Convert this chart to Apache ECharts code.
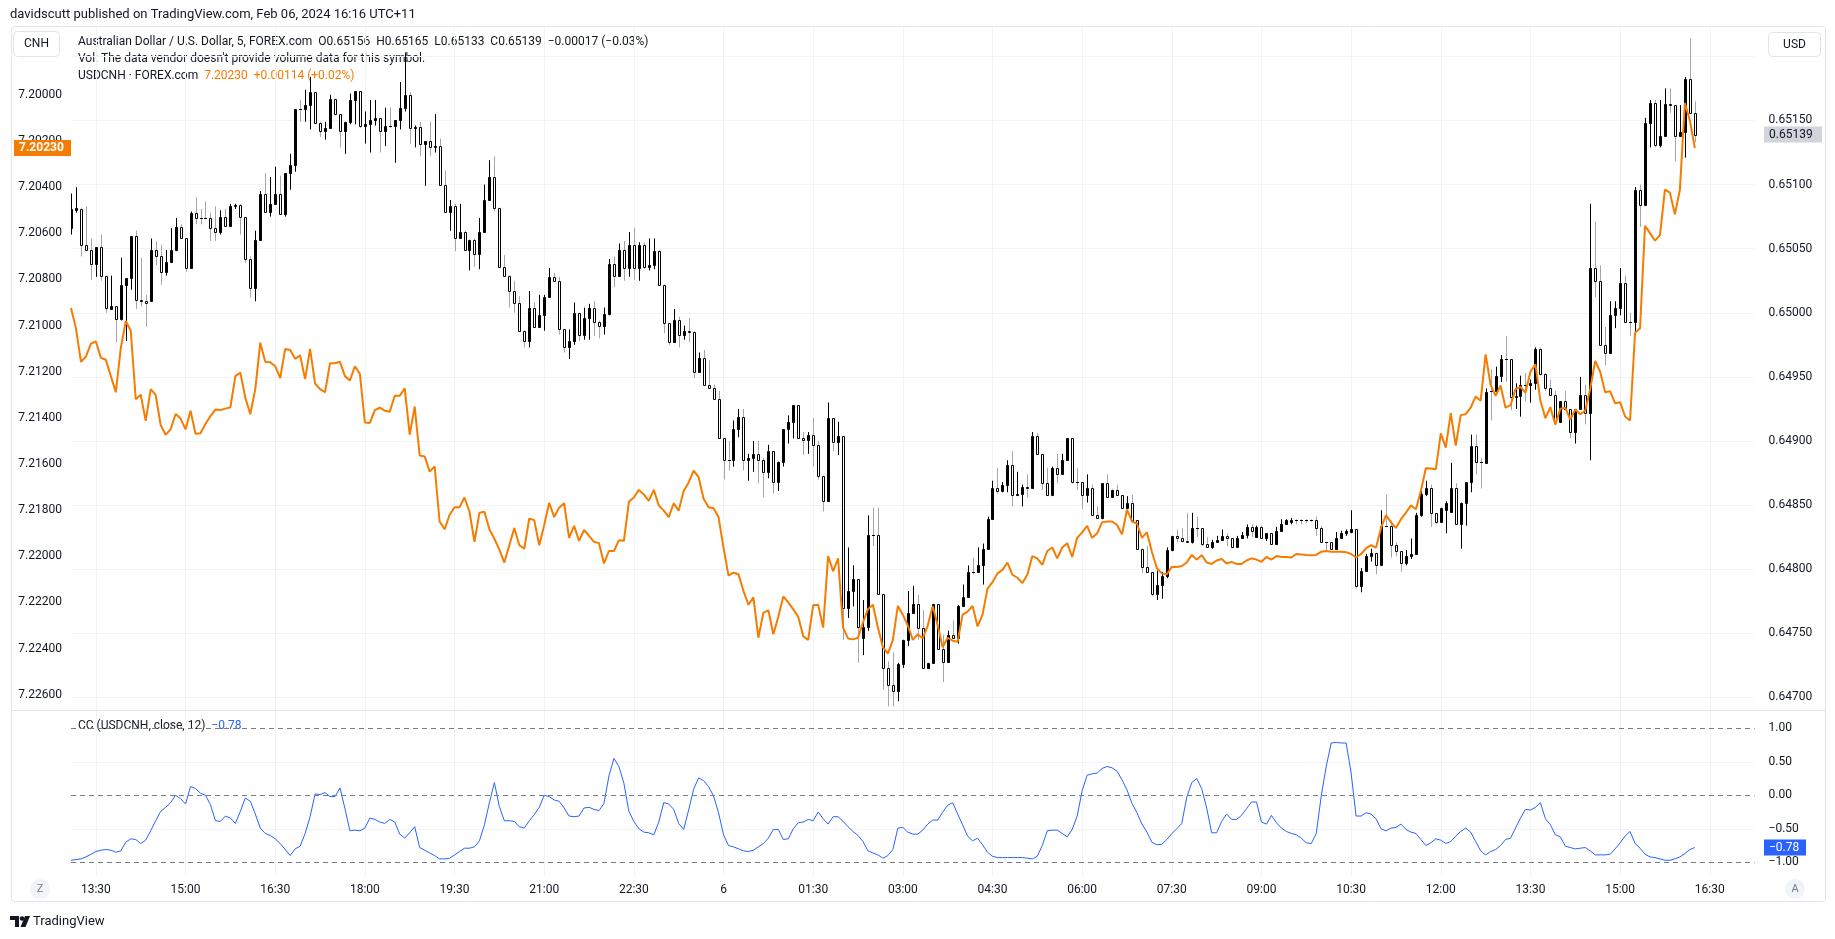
<!DOCTYPE html>
<html>
<head>
<meta charset="utf-8">
<script src="https://cdn.jsdelivr.net/npm/echarts@6/dist/echarts.min.js"></script>
<style>
html,body{margin:0;padding:0;background:#ffffff;}
#chart{width:1835px;height:939px;}
</style>
</head>
<body>
<div id="chart"></div>
<script>
// ---------------- DATA ----------------
// AUD/USD 5-minute candles, 5 Feb 13:05 -> 6 Feb 16:15 (UTC+11)
const audOpen = [
0.65066,0.65080,0.65081,0.65053,0.65049,0.65038,0.65051,0.65029,0.65003,0.65005,
0.64995,0.65022,0.65027,0.65060,0.65010,0.65009,0.65009,0.65049,0.65044,0.65032,
0.65040,0.65049,0.65067,0.65058,0.65035,0.65078,0.65074,0.65074,0.65074,0.65066,
0.65063,0.65075,0.65068,0.65083,0.65084,0.65075,0.65042,0.65019,0.65057,0.65093,
0.65079,0.65085,0.65093,0.65077,0.65109,0.65115,0.65159,0.65159,0.65162,0.65172,
0.65148,0.65142,0.65144,0.65167,0.65155,0.65142,0.65149,0.65166,0.65173,0.65146,
0.65147,0.65150,0.65152,0.65142,0.65146,0.65146,0.65150,0.65160,0.65170,0.65144,
0.65145,0.65132,0.65134,0.65129,0.65130,0.65100,0.65079,0.65083,0.65058,0.65063,
0.65049,0.65057,0.65046,0.65063,0.65088,0.65106,0.65082,0.65036,0.65029,0.65017,
0.65008,0.64986,0.64978,0.65004,0.64989,0.64998,0.65012,0.65028,0.65025,0.64987,
0.64973,0.64978,0.65000,0.64983,0.64996,0.65004,0.64993,0.64990,0.64999,0.65038,
0.65029,0.65049,0.65035,0.65053,0.65035,0.65053,0.65036,0.65037,0.65048,0.65022,
0.64992,0.64977,0.64994,0.64983,0.64986,0.64985,0.64954,0.64965,0.64944,0.64941,
0.64933,0.64902,0.64885,0.64885,0.64909,0.64919,0.64885,0.64887,0.64890,0.64885,
0.64876,0.64892,0.64868,0.64884,0.64909,0.64915,0.64928,0.64902,0.64901,0.64905,
0.64897,0.64873,0.64853,0.64918,0.64899,0.64904,0.64770,0.64783,0.64792,0.64746,
0.64755,0.64827,0.64827,0.64781,0.64723,0.64710,0.64705,0.64726,0.64745,0.64766,
0.64773,0.64754,0.64723,0.64727,0.64773,0.64738,0.64728,0.64749,0.64746,0.64771,
0.64778,0.64798,0.64798,0.64803,0.64816,0.64839,0.64863,0.64861,0.64866,0.64881,
0.64858,0.64859,0.64864,0.64863,0.64904,0.64890,0.64867,0.64858,0.64879,0.64874,
0.64885,0.64902,0.64868,0.64868,0.64858,0.64863,0.64842,0.64840,0.64867,0.64856,
0.64862,0.64858,0.64848,0.64852,0.64838,0.64816,0.64802,0.64798,0.64781,0.64788,
0.64795,0.64815,0.64826,0.64824,0.64822,0.64821,0.64832,0.64832,0.64820,0.64817,
0.64821,0.64823,0.64826,0.64824,0.64817,0.64824,0.64827,0.64833,0.64825,0.64833,
0.64824,0.64828,0.64820,0.64830,0.64835,0.64837,0.64838,0.64838,0.64838,0.64838,
0.64838,0.64832,0.64821,0.64821,0.64816,0.64824,0.64828,0.64829,0.64831,0.64787,
0.64799,0.64810,0.64813,0.64803,0.64834,0.64834,0.64819,0.64814,0.64805,0.64810,
0.64812,0.64842,0.64859,0.64863,0.64844,0.64837,0.64846,0.64845,0.64863,0.64835,
0.64852,0.64868,0.64896,0.64884,0.64883,0.64939,0.64939,0.64951,0.64964,0.64964,
0.64934,0.64935,0.64944,0.64944,0.64945,0.64972,0.64952,0.64941,0.64936,0.64915,
0.64931,0.64925,0.64907,0.64925,0.64936,0.64922,0.65035,0.65025,0.64975,0.64969,
0.64998,0.65004,0.65023,0.64993,0.64993,0.65096,0.65084,0.65148,0.65164,0.65131,
0.65138,0.65163,0.65162,0.65138,0.65141,0.65182,0.65156];
const audHigh = [
0.65093,0.65098,0.65082,0.65083,0.65058,0.65051,0.65061,0.65029,0.65029,0.65005,
0.65043,0.65027,0.65060,0.65064,0.65043,0.65014,0.65058,0.65056,0.65053,0.65049,
0.65066,0.65074,0.65069,0.65058,0.65079,0.65090,0.65081,0.65087,0.65078,0.65083,
0.65080,0.65081,0.65085,0.65085,0.65085,0.65075,0.65044,0.65064,0.65095,0.65109,
0.65106,0.65114,0.65107,0.65109,0.65124,0.65159,0.65166,0.65174,0.65184,0.65172,
0.65149,0.65149,0.65170,0.65167,0.65155,0.65149,0.65171,0.65173,0.65173,0.65157,
0.65166,0.65166,0.65152,0.65160,0.65160,0.65150,0.65180,0.65203,0.65172,0.65146,
0.65149,0.65134,0.65149,0.65155,0.65136,0.65111,0.65088,0.65085,0.65085,0.65064,
0.65057,0.65058,0.65074,0.65100,0.65119,0.65122,0.65082,0.65045,0.65029,0.65025,
0.65013,0.64986,0.65017,0.65008,0.65014,0.65014,0.65035,0.65031,0.65028,0.64987,
0.64987,0.65008,0.65000,0.65004,0.65007,0.65009,0.64994,0.65004,0.65042,0.65044,
0.65054,0.65056,0.65063,0.65066,0.65055,0.65055,0.65058,0.65058,0.65049,0.65022,
0.64992,0.65003,0.64997,0.64990,0.64996,0.64986,0.64969,0.64971,0.64963,0.64944,
0.64939,0.64902,0.64900,0.64916,0.64925,0.64925,0.64890,0.64900,0.64900,0.64887,
0.64897,0.64892,0.64884,0.64909,0.64920,0.64928,0.64928,0.64907,0.64907,0.64918,
0.64900,0.64873,0.64930,0.64918,0.64915,0.64904,0.64817,0.64803,0.64792,0.64776,
0.64842,0.64848,0.64848,0.64781,0.64728,0.64735,0.64727,0.64745,0.64783,0.64787,
0.64780,0.64768,0.64727,0.64773,0.64773,0.64749,0.64752,0.64760,0.64772,0.64788,
0.64803,0.64809,0.64817,0.64820,0.64841,0.64869,0.64879,0.64868,0.64885,0.64892,
0.64876,0.64866,0.64874,0.64907,0.64906,0.64890,0.64879,0.64880,0.64890,0.64890,
0.64902,0.64902,0.64879,0.64868,0.64874,0.64866,0.64849,0.64867,0.64874,0.64862,
0.64866,0.64858,0.64857,0.64858,0.64838,0.64816,0.64818,0.64798,0.64799,0.64798,
0.64817,0.64826,0.64831,0.64832,0.64844,0.64844,0.64841,0.64832,0.64825,0.64823,
0.64826,0.64831,0.64828,0.64824,0.64826,0.64829,0.64835,0.64835,0.64834,0.64834,
0.64828,0.64828,0.64833,0.64839,0.64839,0.64840,0.64839,0.64839,0.64839,0.64839,
0.64841,0.64834,0.64821,0.64821,0.64829,0.64830,0.64831,0.64846,0.64831,0.64801,
0.64812,0.64816,0.64813,0.64846,0.64858,0.64838,0.64821,0.64814,0.64815,0.64824,
0.64844,0.64863,0.64869,0.64866,0.64844,0.64848,0.64853,0.64883,0.64867,0.64852,
0.64868,0.64905,0.64905,0.64887,0.64941,0.64956,0.64958,0.64967,0.64982,0.64964,
0.64945,0.64951,0.64953,0.64948,0.64973,0.64973,0.64953,0.64948,0.64939,0.64931,
0.64939,0.64925,0.64925,0.64950,0.64944,0.65085,0.65071,0.65037,0.64989,0.65009,
0.65009,0.65035,0.65029,0.65000,0.65098,0.65100,0.65152,0.65166,0.65166,0.65166,
0.65175,0.65175,0.65162,0.65162,0.65184,0.65214,0.65165];
const audLow = [
0.65061,0.65078,0.65044,0.65048,0.65026,0.65028,0.65025,0.65000,0.65003,0.64977,
0.64994,0.64978,0.65018,0.65003,0.65005,0.64989,0.65009,0.65037,0.65022,0.65029,
0.65040,0.65048,0.65058,0.65032,0.65035,0.65069,0.65069,0.65073,0.65056,0.65056,
0.65061,0.65068,0.65068,0.65081,0.65061,0.65039,0.65012,0.65009,0.65057,0.65079,
0.65075,0.65085,0.65077,0.65075,0.65096,0.65110,0.65149,0.65149,0.65143,0.65147,
0.65137,0.65135,0.65144,0.65154,0.65129,0.65124,0.65147,0.65147,0.65144,0.65132,
0.65125,0.65146,0.65125,0.65130,0.65144,0.65117,0.65143,0.65157,0.65132,0.65129,
0.65122,0.65099,0.65122,0.65125,0.65100,0.65079,0.65064,0.65048,0.65058,0.65049,
0.65033,0.65036,0.65034,0.65063,0.65088,0.65079,0.65036,0.65029,0.65004,0.65000,
0.64986,0.64973,0.64973,0.64989,0.64989,0.64986,0.65012,0.65024,0.64983,0.64969,
0.64964,0.64975,0.64978,0.64979,0.64979,0.64982,0.64980,0.64983,0.64998,0.65020,
0.65028,0.65025,0.65028,0.65026,0.65025,0.65034,0.65033,0.65034,0.65022,0.64984,
0.64975,0.64977,0.64973,0.64979,0.64977,0.64949,0.64954,0.64944,0.64941,0.64932,
0.64902,0.64870,0.64877,0.64880,0.64903,0.64877,0.64869,0.64876,0.64867,0.64856,
0.64871,0.64859,0.64861,0.64880,0.64898,0.64902,0.64902,0.64889,0.64890,0.64880,
0.64870,0.64845,0.64853,0.64892,0.64889,0.64745,0.64762,0.64771,0.64727,0.64733,
0.64752,0.64818,0.64781,0.64706,0.64693,0.64693,0.64697,0.64723,0.64740,0.64765,
0.64745,0.64723,0.64723,0.64727,0.64738,0.64712,0.64728,0.64746,0.64742,0.64771,
0.64778,0.64796,0.64797,0.64788,0.64815,0.64839,0.64859,0.64860,0.64860,0.64849,
0.64857,0.64849,0.64856,0.64863,0.64889,0.64862,0.64858,0.64857,0.64867,0.64874,
0.64885,0.64867,0.64862,0.64847,0.64852,0.64842,0.64840,0.64839,0.64856,0.64856,
0.64857,0.64847,0.64847,0.64836,0.64816,0.64797,0.64798,0.64779,0.64776,0.64777,
0.64793,0.64814,0.64821,0.64821,0.64821,0.64820,0.64825,0.64818,0.64817,0.64816,
0.64821,0.64822,0.64818,0.64817,0.64817,0.64824,0.64824,0.64825,0.64825,0.64824,
0.64822,0.64820,0.64820,0.64830,0.64835,0.64835,0.64835,0.64835,0.64836,0.64837,
0.64826,0.64821,0.64815,0.64815,0.64816,0.64824,0.64826,0.64828,0.64785,0.64782,
0.64799,0.64806,0.64796,0.64803,0.64833,0.64809,0.64810,0.64798,0.64803,0.64808,
0.64811,0.64841,0.64857,0.64833,0.64835,0.64837,0.64828,0.64845,0.64835,0.64816,
0.64834,0.64860,0.64874,0.64863,0.64882,0.64916,0.64939,0.64946,0.64946,0.64924,
0.64925,0.64919,0.64931,0.64930,0.64940,0.64951,0.64939,0.64936,0.64915,0.64914,
0.64924,0.64902,0.64898,0.64925,0.64913,0.64885,0.65012,0.64975,0.64959,0.64969,
0.64988,0.64998,0.64993,0.64982,0.64983,0.65067,0.65084,0.65129,0.65129,0.65129,
0.65138,0.65156,0.65118,0.65137,0.65121,0.65156,0.65133];
const audClose = [
0.65081,0.65082,0.65053,0.65049,0.65038,0.65051,0.65029,0.65004,0.65005,0.64995,
0.65022,0.65027,0.65060,0.65010,0.65009,0.65008,0.65049,0.65044,0.65032,0.65040,
0.65049,0.65067,0.65058,0.65035,0.65078,0.65074,0.65074,0.65074,0.65066,0.65063,
0.65075,0.65068,0.65083,0.65084,0.65075,0.65042,0.65019,0.65057,0.65093,0.65079,
0.65085,0.65093,0.65077,0.65109,0.65115,0.65159,0.65159,0.65162,0.65172,0.65148,
0.65142,0.65144,0.65167,0.65155,0.65142,0.65149,0.65166,0.65173,0.65146,0.65147,
0.65150,0.65152,0.65142,0.65146,0.65146,0.65150,0.65160,0.65170,0.65144,0.65145,
0.65132,0.65134,0.65129,0.65130,0.65100,0.65079,0.65083,0.65058,0.65063,0.65049,
0.65057,0.65046,0.65063,0.65088,0.65106,0.65082,0.65036,0.65029,0.65017,0.65008,
0.64986,0.64978,0.65004,0.64989,0.64998,0.65012,0.65028,0.65025,0.64987,0.64973,
0.64978,0.65000,0.64983,0.64996,0.65004,0.64993,0.64990,0.64999,0.65038,0.65029,
0.65049,0.65035,0.65053,0.65035,0.65053,0.65036,0.65037,0.65048,0.65022,0.64992,
0.64977,0.64994,0.64983,0.64986,0.64985,0.64954,0.64965,0.64944,0.64941,0.64933,
0.64902,0.64885,0.64885,0.64909,0.64919,0.64885,0.64887,0.64890,0.64885,0.64876,
0.64892,0.64868,0.64884,0.64909,0.64915,0.64928,0.64902,0.64901,0.64905,0.64897,
0.64873,0.64853,0.64918,0.64899,0.64904,0.64770,0.64783,0.64792,0.64755,0.64755,
0.64827,0.64827,0.64781,0.64723,0.64710,0.64705,0.64726,0.64745,0.64766,0.64773,
0.64754,0.64723,0.64727,0.64773,0.64738,0.64728,0.64749,0.64746,0.64771,0.64778,
0.64798,0.64798,0.64803,0.64816,0.64839,0.64863,0.64861,0.64866,0.64881,0.64858,
0.64859,0.64864,0.64863,0.64904,0.64890,0.64867,0.64858,0.64879,0.64874,0.64885,
0.64902,0.64868,0.64868,0.64858,0.64863,0.64842,0.64840,0.64867,0.64856,0.64862,
0.64858,0.64848,0.64852,0.64838,0.64816,0.64802,0.64798,0.64781,0.64788,0.64795,
0.64815,0.64826,0.64824,0.64822,0.64821,0.64832,0.64832,0.64820,0.64817,0.64821,
0.64823,0.64826,0.64824,0.64817,0.64824,0.64827,0.64833,0.64830,0.64833,0.64824,
0.64828,0.64820,0.64830,0.64835,0.64838,0.64838,0.64838,0.64838,0.64838,0.64838,
0.64832,0.64821,0.64821,0.64816,0.64824,0.64828,0.64830,0.64831,0.64787,0.64799,
0.64810,0.64813,0.64803,0.64834,0.64834,0.64819,0.64814,0.64805,0.64810,0.64812,
0.64842,0.64859,0.64863,0.64844,0.64837,0.64848,0.64852,0.64863,0.64835,0.64852,
0.64868,0.64896,0.64884,0.64884,0.64938,0.64939,0.64951,0.64964,0.64964,0.64934,
0.64935,0.64944,0.64944,0.64945,0.64972,0.64952,0.64941,0.64936,0.64915,0.64931,
0.64925,0.64907,0.64925,0.64936,0.64922,0.65035,0.65025,0.64975,0.64969,0.64998,
0.65004,0.65023,0.64993,0.64993,0.65096,0.65084,0.65148,0.65164,0.65131,0.65138,
0.65163,0.65162,0.65138,0.65141,0.65182,0.65156,0.65139];

// USDCNH close (overlay, left inverted scale)
const usdcnh = [
7.20924,7.21012,7.21157,7.21134,7.21078,7.21069,7.21140,7.21148,7.21219,7.21289,
7.21097,7.20980,7.21022,7.21319,7.21300,7.21413,7.21275,7.21300,7.21431,7.21473,
7.21450,7.21383,7.21403,7.21450,7.21369,7.21469,7.21467,7.21426,7.21392,7.21364,
7.21366,7.21360,7.21354,7.21219,7.21204,7.21313,7.21384,7.21275,7.21074,7.21157,
7.21159,7.21176,7.21228,7.21101,7.21106,7.21144,7.21129,7.21232,7.21101,7.21251,
7.21275,7.21289,7.21163,7.21163,7.21157,7.21219,7.21238,7.21176,7.21210,7.21420,
7.21422,7.21366,7.21356,7.21369,7.21373,7.21304,7.21304,7.21272,7.21473,7.21351,
7.21563,7.21567,7.21633,7.21610,7.21849,7.21883,7.21821,7.21787,7.21787,7.21745,
7.21807,7.21937,7.21811,7.21807,7.21883,7.21924,7.21971,7.22027,7.21952,7.21877,
7.21952,7.21967,7.21836,7.21843,7.21952,7.21864,7.21768,7.21830,7.21789,7.21770,
7.21920,7.21868,7.21933,7.21886,7.21911,7.21937,7.21943,7.22031,7.21977,7.21977,
7.21930,7.21933,7.21764,7.21745,7.21712,7.21732,7.21760,7.21712,7.21779,7.21802,
7.21830,7.21770,7.21802,7.21717,7.21680,7.21629,7.21657,7.21751,7.21787,7.21792,
7.21830,7.21962,7.22084,7.22071,7.22078,7.22150,7.22210,7.22178,7.22353,7.22244,
7.22234,7.22338,7.22262,7.22174,7.22200,7.22230,7.22262,7.22347,7.22362,7.22212,
7.22210,7.22309,7.21999,7.22065,7.22009,7.22309,7.22356,7.22360,7.22353,7.22287,
7.22229,7.22210,7.22309,7.22394,7.22422,7.22362,7.22215,7.22253,7.22300,7.22362,
7.22338,7.22356,7.22300,7.22215,7.22300,7.22394,7.22353,7.22366,7.22370,7.22253,
7.22240,7.22215,7.22304,7.22253,7.22140,7.22112,7.22074,7.22059,7.22027,7.22080,
7.22093,7.22116,7.22080,7.21999,7.22009,7.22037,7.21977,7.21962,7.22009,7.21962,
7.21943,7.22003,7.21920,7.21896,7.21868,7.21920,7.21901,7.21853,7.21849,7.21849,
7.21864,7.21905,7.21798,7.21849,7.21858,7.21920,7.21896,7.21980,7.22052,7.22074,
7.22078,7.22046,7.22046,7.22042,7.22027,7.21994,7.22014,7.21995,7.22027,7.22033,
7.22018,7.22012,7.22031,7.22024,7.22033,7.22033,7.22018,7.22009,7.22014,7.22024,
7.22003,7.22014,7.21999,7.22003,7.22003,7.22005,7.21990,7.21992,7.21994,7.21995,
7.21994,7.21980,7.21977,7.21980,7.21980,7.21980,7.21982,7.21990,7.22005,7.21990,
7.21965,7.21952,7.21962,7.21877,7.21821,7.21853,7.21877,7.21839,7.21811,7.21779,
7.21796,7.21717,7.21618,7.21619,7.21623,7.21467,7.21529,7.21379,7.21520,7.21388,
7.21384,7.21356,7.21307,7.21326,7.21125,7.21257,7.21304,7.21260,7.21356,7.21345,
7.21275,7.21266,7.21290,7.21200,7.21168,7.21326,7.21401,7.21354,7.21430,7.21360,
7.21356,7.21407,7.21364,7.21384,7.21369,7.21275,7.21153,7.21200,7.21289,7.21285,
7.21337,7.21332,7.21394,7.21411,7.21031,7.21012,7.20567,7.20599,7.20632,7.20608,
7.20411,7.20424,7.20518,7.20411,7.20035,7.20110,7.20230];

// CC (USDCNH, close, 12) correlation coefficient
const ccValues = [
-0.97,-0.96,-0.95,-0.92,-0.88,-0.84,-0.82,-0.81,-0.82,-0.85,
-0.83,-0.70,-0.65,-0.66,-0.72,-0.67,-0.53,-0.38,-0.24,-0.18,
-0.11,0.00,-0.05,-0.13,0.13,0.10,0.03,0.00,-0.14,-0.38,
-0.39,-0.31,-0.34,-0.42,-0.24,-0.04,-0.09,-0.28,-0.49,-0.57,
-0.60,-0.65,-0.72,-0.81,-0.90,-0.80,-0.76,-0.57,-0.32,0.02,
0.01,0.04,-0.02,-0.02,0.11,-0.20,-0.53,-0.52,-0.53,-0.49,
-0.34,-0.36,-0.40,-0.42,-0.36,-0.40,-0.58,-0.64,-0.56,-0.47,
-0.78,-0.82,-0.86,-0.90,-0.95,-0.95,-0.94,-0.89,-0.84,-0.79,
-0.79,-0.77,-0.68,-0.44,-0.11,0.19,-0.17,-0.38,-0.38,-0.39,
-0.47,-0.49,-0.38,-0.29,-0.18,0.00,-0.02,-0.07,-0.09,-0.19,
-0.31,-0.32,-0.31,-0.19,-0.18,-0.21,-0.23,-0.12,0.29,0.55,
0.43,0.18,-0.24,-0.39,-0.50,-0.55,-0.56,-0.59,-0.40,-0.11,
-0.13,-0.21,-0.42,-0.51,-0.22,0.09,0.26,0.22,0.13,-0.01,
-0.26,-0.59,-0.75,-0.77,-0.80,-0.83,-0.84,-0.82,-0.77,-0.72,
-0.64,-0.51,-0.51,-0.66,-0.65,-0.50,-0.41,-0.40,-0.36,-0.38,
-0.25,-0.35,-0.43,-0.32,-0.32,-0.39,-0.47,-0.54,-0.60,-0.69,
-0.83,-0.86,-0.89,-0.94,-0.90,-0.81,-0.49,-0.48,-0.55,-0.58,
-0.58,-0.52,-0.43,-0.37,-0.37,-0.25,-0.15,-0.11,-0.28,-0.44,
-0.61,-0.68,-0.64,-0.74,-0.85,-0.91,-0.93,-0.93,-0.93,-0.93,
-0.93,-0.93,-0.94,-0.95,-0.91,-0.75,-0.53,-0.52,-0.52,-0.57,
-0.62,-0.51,-0.31,0.07,0.30,0.32,0.33,0.40,0.43,0.41,
0.36,0.23,0.08,-0.12,-0.26,-0.43,-0.55,-0.70,-0.74,-0.73,
-0.66,-0.57,-0.50,-0.42,-0.03,0.19,0.25,0.10,-0.19,-0.56,
-0.56,-0.39,-0.28,-0.36,-0.36,-0.30,-0.20,-0.10,-0.10,-0.40,
-0.43,-0.30,-0.41,-0.49,-0.54,-0.57,-0.59,-0.64,-0.71,-0.72,
-0.57,-0.01,0.43,0.78,0.79,0.78,0.78,0.33,-0.31,-0.31,
-0.26,-0.28,-0.35,-0.50,-0.53,-0.49,-0.48,-0.43,-0.51,-0.55,
-0.57,-0.66,-0.75,-0.71,-0.65,-0.67,-0.72,-0.69,-0.61,-0.54,
-0.49,-0.55,-0.69,-0.83,-0.89,-0.84,-0.81,-0.75,-0.66,-0.64,
-0.49,-0.34,-0.21,-0.22,-0.18,-0.11,-0.35,-0.44,-0.59,-0.62,
-0.76,-0.78,-0.80,-0.79,-0.78,-0.83,-0.89,-0.89,-0.89,-0.88,
-0.80,-0.71,-0.61,-0.54,-0.72,-0.79,-0.88,-0.92,-0.93,-0.95,
-0.97,-0.97,-0.95,-0.92,-0.87,-0.81,-0.78];

// tick labels
const timeTicks = ['5 13:30','5 15:00','5 16:30','5 18:00','5 19:30','5 21:00','5 22:30',
  '6 00:00','6 01:30','6 03:00','6 04:30','6 06:00','6 07:30','6 09:00','6 10:30',
  '6 12:00','6 13:30','6 15:00','6 16:30'];
const cnhTicks = [7.200,7.202,7.204,7.206,7.208,7.210,7.212,7.214,7.216,7.218,7.220,7.222,7.224,7.226];
const audTickLabels = [0.6470,0.6475,0.6480,0.6485,0.6490,0.6495,0.6500,0.6505,0.6510,0.6515];
const audGridValues = [0.6470,0.6475,0.6480,0.6485,0.6490,0.6495,0.6500,0.6505,0.6510,0.6515,0.6520];
const ccTickLabels = [-1,-0.5,0,0.5,1];
const ccGridValues = [-0.5,0.5];
const ccLevels = [1,0,-1];

// time slots: 5-minute bars from 5 Feb 13:05, plus empty right margin
const firstBarMinute = 13*60+5;
const slotCount = 339;
const categories = [];
for (let k = 0; k < slotCount; k++) {
  const m = firstBarMinute + k*5;
  const d = 5 + Math.floor(m/1440);
  const mm = m % 1440;
  categories.push(d + ' ' + String(Math.floor(mm/60)).padStart(2,'0') + ':' + String(mm%60).padStart(2,'0'));
}
const tickSet = new Set(timeTicks);
function timeLabel(v){ const p = v.split(' '); return p[1] === '00:00' ? p[0] : p[1]; }

// ---------------- STYLE ----------------
const FONT = 'Roboto, "Noto Sans", sans-serif';
const TXT = '#131722';
const GRIDC = '#f0f3fa';
const FRAME = '#e0e3eb';
const ORANGE = '#f57c00';
const BLUE = '#2962ff';
const DARK = '#000000';
const WICK_GRAY = '#a3a6af';
const minus = v => (v < 0 ? '\u2212' : '') + Math.abs(v);

function renderCandle(params, api) {
  const idx = api.value(0);
  const o = api.value(1), c = api.value(2), lo = api.value(3), hi = api.value(4);
  const pO = api.coord([idx, o]), pC = api.coord([idx, c]);
  const pL = api.coord([idx, lo]), pH = api.coord([idx, hi]);
  const up = c > o;
  const x = Math.round(pO[0]) + 0.5;
  const top = Math.round(Math.min(pO[1], pC[1])) + 0.5;
  const bot = Math.round(Math.max(pO[1], pC[1])) + 0.5;
  const children = [{
    type: 'line', shape: {x1: x, y1: pH[1], x2: x, y2: pL[1]},
    style: {stroke: up ? DARK : WICK_GRAY, lineWidth: 1}
  }];
  if (bot - top < 1) {
    children.push({type: 'line', shape: {x1: x - 1.5, y1: top, x2: x + 1.5, y2: top},
      style: {stroke: DARK, lineWidth: 1}});
  } else {
    children.push({type: 'rect', shape: {x: x - 1, y: top, width: 2, height: bot - top},
      style: {fill: up ? DARK : '#ffffff', stroke: DARK, lineWidth: 1}});
  }
  return {type: 'group', children: children};
}

const candleData = audOpen.map((o, i) => [i, o, audClose[i], audLow[i], audHigh[i]]);

const chart = echarts.init(document.getElementById('chart'), null, {renderer: 'canvas'});

const baseGraphics = [
  {type:'text', x:10, y:15, style:{text:'davidscutt published on TradingView.com, Feb 06, 2024 16:16 UTC+11', font:'13px '+FONT, fill:TXT, verticalAlign:'middle'}},
  {type:'rect', shape:{x:11.5, y:26.5, width:1814, height:875, r:3}, style:{fill:'none', stroke:FRAME, lineWidth:1}, silent:true},
  {type:'line', shape:{x1:12, y1:710.5, x2:1825, y2:710.5}, style:{stroke:FRAME, lineWidth:1}, silent:true},
  {type:'rect', shape:{x:13.5, y:31.5, width:46, height:25, r:4}, style:{fill:'#ffffff', stroke:FRAME, lineWidth:1}},
  {type:'text', x:36.5, y:44, style:{text:'CNH', font:'12px '+FONT, fill:TXT, align:'center', verticalAlign:'middle'}},
  {type:'rect', shape:{x:1768.5, y:32.5, width:52, height:24, r:4}, style:{fill:'#ffffff', stroke:FRAME, lineWidth:1}},
  {type:'text', x:1794.5, y:44.5, style:{text:'USD', font:'12px '+FONT, fill:TXT, align:'center', verticalAlign:'middle'}},
  {type:'text', x:78, y:42, style:{text:'Australian Dollar / U.S. Dollar, 5, FOREX.com  O0.65156  H0.65165  L0.65133  C0.65139  \u22120.00017 (\u22120.03%)', font:'12px '+FONT, fill:TXT, verticalAlign:'middle'}},
  {type:'text', x:78, y:59, style:{text:'Vol: The data vendor doesn\'t provide volume data for this symbol.', font:'12px '+FONT, fill:TXT, verticalAlign:'middle'}},
  {type:'text', x:78, y:76, style:{text:'{a|USDCNH \u00b7 FOREX.com}  {b|7.20230  +0.00114 (+0.02%)}', font:'12px '+FONT, verticalAlign:'middle',
     rich:{a:{fill:TXT, font:'12px '+FONT}, b:{fill:ORANGE, font:'12px '+FONT}}}},
  {type:'text', x:78, y:726, style:{text:'{a|CC (USDCNH, close, 12)}  {b|\u22120.78}', font:'12px '+FONT, verticalAlign:'middle',
     rich:{a:{fill:TXT, font:'12px '+FONT}, b:{fill:BLUE, font:'12px '+FONT}}}},
  {type:'circle', shape:{cx:40, cy:889, r:10}, style:{fill:GRIDC}},
  {type:'text', x:40, y:889, style:{text:'Z', font:'11px '+FONT, fill:'#787b86', align:'center', verticalAlign:'middle'}},
  {type:'circle', shape:{cx:1795, cy:889, r:10}, style:{fill:GRIDC}},
  {type:'text', x:1795, y:889, style:{text:'A', font:'11px '+FONT, fill:'#787b86', align:'center', verticalAlign:'middle'}},
  {type:'polygon', shape:{points:[[10,916],[19,916],[19,927],[15,927],[15,920],[10,920]]}, style:{fill:TXT}},
  {type:'circle', shape:{cx:22, cy:918.5, r:2.3}, style:{fill:TXT}},
  {type:'polygon', shape:{points:[[25,916],[30,916],[25.5,927],[20.5,927]]}, style:{fill:TXT}},
  {type:'text', x:33, y:922, style:{text:'TradingView', font:'13px '+FONT, fill:TXT, verticalAlign:'middle'}}
];

const option = {
  backgroundColor: '#ffffff',
  animation: false,
  textStyle: {fontFamily: FONT},
  grid: [
    {left: 71, right: 80.4, top: 27, height: 683},
    {left: 71, right: 80.4, top: 711, height: 164}
  ],
  xAxis: [
    {gridIndex: 0, type: 'category', data: categories, boundaryGap: false,
     axisLine: {show: false}, axisTick: {show: false}, axisLabel: {show: false},
     splitLine: {show: true, interval: (i, v) => tickSet.has(v), lineStyle: {color: GRIDC, width: 1}}},
    {gridIndex: 1, type: 'category', data: categories, boundaryGap: false,
     axisLine: {show: false}, axisTick: {show: false},
     axisLabel: {show: true, interval: (i, v) => tickSet.has(v), formatter: timeLabel,
       color: TXT, fontSize: 12, fontFamily: FONT, margin: 9},
     splitLine: {show: true, interval: (i, v) => tickSet.has(v), lineStyle: {color: GRIDC, width: 1}}}
  ],
  yAxis: [
    {gridIndex: 0, type: 'value', position: 'left', inverse: true, min: 7.197057, max: 7.226662,
     axisLine: {show: false}, axisTick: {show: false, customValues: cnhTicks}, splitLine: {show: false},
     axisLabel: {customValues: cnhTicks, formatter: v => v.toFixed(5), color: TXT, fontSize: 12, fontFamily: FONT, margin: 9}},
    {gridIndex: 0, type: 'value', position: 'right', min: 0.646902, max: 0.652229,
     axisLine: {show: false}, axisTick: {show: false, customValues: audGridValues},
     splitLine: {show: true, lineStyle: {color: GRIDC, width: 1}},
     axisLabel: {customValues: audTickLabels, formatter: v => v.toFixed(5), color: TXT, fontSize: 12, fontFamily: FONT, margin: 14}},
    {gridIndex: 1, type: 'value', position: 'right', min: -1.19, max: 1.258,
     axisLine: {show: false}, axisTick: {show: false, customValues: ccGridValues},
     splitLine: {show: true, lineStyle: {color: GRIDC, width: 1}},
     axisLabel: {customValues: ccTickLabels, formatter: v => (v < 0 ? '\u2212' : '') + Math.abs(v).toFixed(2),
       color: TXT, fontSize: 12, fontFamily: FONT, margin: 14}}
  ],
  series: [
    {type: 'custom', name: 'AUDUSD', xAxisIndex: 0, yAxisIndex: 1, renderItem: renderCandle,
     encode: {x: 0, y: [1, 2, 3, 4]}, data: candleData, z: 2, clip: true},
    {type: 'line', name: 'USDCNH', xAxisIndex: 0, yAxisIndex: 0, data: usdcnh, showSymbol: false,
     lineStyle: {color: ORANGE, width: 2}, itemStyle: {color: ORANGE}, z: 3},
    {type: 'line', name: 'CC', xAxisIndex: 1, yAxisIndex: 2, data: ccValues, showSymbol: false,
     lineStyle: {color: BLUE, width: 1}, itemStyle: {color: BLUE}, z: 3,
     markLine: {silent: true, symbol: ['none', 'none'], label: {show: false},
       lineStyle: {color: '#787b86', type: [5, 4], width: 1},
       data: ccLevels.map(v => ({yAxis: v}))}}
  ],
  graphic: baseGraphics
};
chart.setOption(option);

// last-value tags positioned through the axes
const last = audClose.length - 1;
const yAud = chart.convertToPixel({yAxisIndex: 1}, audClose[last]);
const yCnh = chart.convertToPixel({yAxisIndex: 0}, usdcnh[usdcnh.length - 1]);
const yCc = chart.convertToPixel({yAxisIndex: 2}, ccValues[ccValues.length - 1]);
const tags = [
  {type:'rect', z:100, shape:{x:1764, y:yAud-8, width:58, height:16}, style:{fill:'#d1d4dc'}},
  {type:'text', z:101, x:1769, y:yAud, style:{text:audClose[last].toFixed(5), font:'12px '+FONT, fill:TXT, verticalAlign:'middle'}},
  {type:'rect', z:100, shape:{x:14, y:yCnh-8, width:57, height:16}, style:{fill:ORANGE}},
  {type:'text', z:101, x:19, y:yCnh, style:{text:usdcnh[usdcnh.length-1].toFixed(5), font:'bold 12px '+FONT, fill:'#ffffff', verticalAlign:'middle'}},
  {type:'rect', z:100, shape:{x:1764, y:yCc-8, width:42, height:16}, style:{fill:BLUE}},
  {type:'text', z:101, x:1769, y:yCc, style:{text:'\u2212' + Math.abs(ccValues[ccValues.length-1]).toFixed(2), font:'12px '+FONT, fill:'#ffffff', verticalAlign:'middle'}}
];
chart.setOption({graphic: baseGraphics.concat(tags)});
</script>
</body>
</html>
